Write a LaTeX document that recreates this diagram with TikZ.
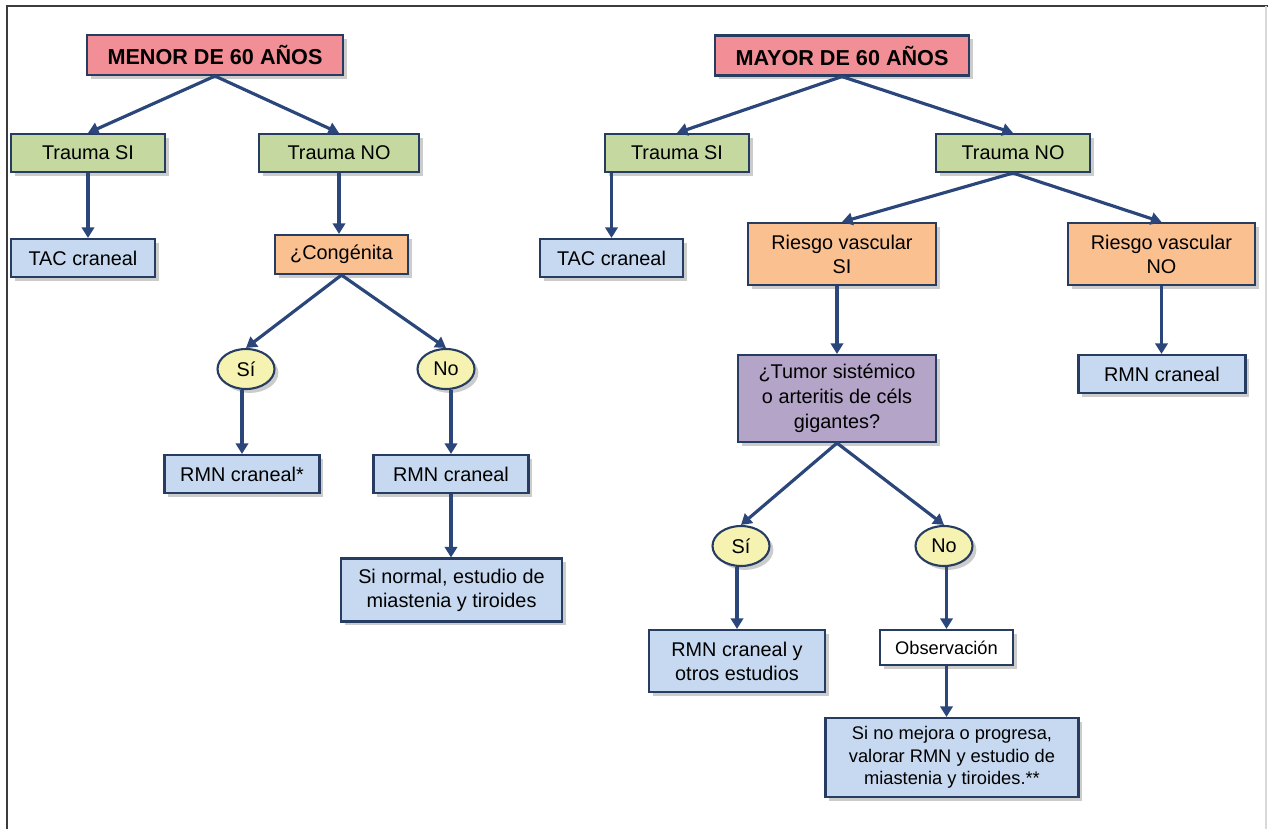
\documentclass[tikz,border=0pt]{standalone}
\usepackage{fontspec}
\setmainfont{Liberation Sans}
\usetikzlibrary{positioning,arrows.meta,shadows,shapes.geometric}

\definecolor{boxline}{RGB}{38,60,96}
\definecolor{linkblue}{RGB}{42,70,122}
\definecolor{titlered}{RGB}{242,142,150}
\definecolor{traumagreen}{RGB}{196,216,160}
\definecolor{testblue}{RGB}{198,217,241}
\definecolor{riskorange}{RGB}{250,192,144}
\definecolor{querypurple}{RGB}{180,164,200}
\definecolor{answeryellow}{RGB}{246,243,178}
\definecolor{framegray}{RGB}{60,60,60}

\begin{document}
\begin{tikzpicture}[x=0.02cm, y=-0.02cm,
  base/.style={draw=boxline, line width=1.2pt, align=center, inner sep=2pt,
    drop shadow={shadow xshift=2.2pt, shadow yshift=-2.2pt, opacity=0.4},
    font=\fontsize{11.3}{13.6}\selectfont},
  title/.style={base, fill=titlered, minimum height=0.8cm,
    font=\fontsize{12.3}{14}\selectfont\bfseries},
  trauma/.style={base, fill=traumagreen, minimum height=0.76cm},
  test/.style={base, fill=testblue, minimum height=0.76cm},
  risk/.style={base, fill=riskorange, minimum height=0.78cm},
  query/.style={base, fill=querypurple, font=\fontsize{11.3}{14.2}\selectfont},
  watch/.style={base, fill=white, font=\fontsize{10.4}{12.5}\selectfont},
  answer/.style={base, ellipse, fill=answeryellow, inner sep=0pt,
    minimum width=1.14cm, minimum height=0.8cm},
  link/.style={-{Triangle[length=6pt,width=7pt]}, line width=1.8pt, draw=linkblue}]

\useasboundingbox (0,0) rectangle (1268,829);

% Frame
\draw[line width=1.2pt, draw=framegray] (7,829) -- (7,6) -- (1268,6);
\draw[line width=0.8pt, draw=black!15] (1266,6) -- (1266,829);

% Left tree
\node[title, minimum width=5.12cm] (menor) at (215,55) {MENOR DE 60 AÑOS};
\node[trauma, minimum width=3.08cm] (lsi) at (88,153) {Trauma SI};
\node[trauma, minimum width=3.2cm] (lno) at (339,153) {Trauma NO};
\node[test, minimum width=2.88cm] (ltac) at (83,258) {TAC craneal};
\node[risk, minimum width=2.66cm] (cong) at (341.5,254.5) {¿Congénita};
\node[answer] (lyes) at (246,369) {Sí};
\node[answer] (lnoans) at (446,369) {No};
\node[test, minimum width=3.1cm] (rmnast) at (242,474) {RMN craneal*};
\node[test, minimum width=3.1cm] (lrmn) at (451,474) {RMN craneal};
\node[test, minimum width=4.42cm, minimum height=1.26cm] (lnormal) at (451.5,590)
  {Si normal, estudio de\\miastenia y tiroides};

% Right tree
\node[title, minimum width=5.08cm] (mayor) at (842,55.5) {MAYOR DE 60 AÑOS};
\node[trauma, minimum width=2.87cm] (rsi) at (677,153) {Trauma SI};
\node[trauma, minimum width=3.08cm] (rno) at (1013,153) {Trauma NO};
\node[test, minimum width=2.86cm] (rtac) at (611.5,258) {TAC craneal};
\node[risk, minimum width=3.76cm, minimum height=1.24cm] (vsi) at (842,254) {Riesgo vascular\\SI};
\node[risk, minimum width=3.74cm, minimum height=1.24cm] (vno) at (1161.5,254) {Riesgo vascular\\NO};
\node[test, minimum width=3.34cm] (rrmn) at (1162,374) {RMN craneal};
\node[query, minimum width=3.96cm, minimum height=1.74cm] (tumor) at (837,398.5)
  {¿Tumor sistémico\\o arteritis de céls\\gigantes?};
\node[answer] (ryes) at (741,546) {Sí};
\node[answer] (rnoans) at (944,546) {No};
\node[test, minimum width=3.52cm, minimum height=1.24cm] (otros) at (737,661)
  {RMN craneal y\\otros estudios};
\node[watch, minimum width=2.66cm, minimum height=0.7cm] (obs) at (946.5,647.5) {Observación};
\node[test, minimum width=5.06cm, minimum height=1.58cm, font=\fontsize{10.4}{12.8}\selectfont]
  (mejora) at (952,757.5) {Si no mejora o progresa,\\valorar RMN y estudio de\\miastenia y tiroides.**};

% Arrows, left
\draw[link] (menor.south) -- (lsi.north);
\draw[link] (menor.south) -- (lno.north);
\draw[link] (lsi.south) -- (lsi.south |- ltac.north);
\draw[link] (lno.south) -- (lno.south |- cong.north);
\draw[link] (cong.south) -- (lyes.north);
\draw[link] (cong.south) -- (lnoans.north);
\draw[link] (rmnast.north |- lyes.south) -- (rmnast.north);
\draw[link] (lrmn.north |- lnoans.south) -- (lrmn.north);
\draw[link] (lrmn.south) -- (lrmn.south |- lnormal.north);

% Arrows, right
\draw[link] (mayor.south) -- (rsi.north);
\draw[link] (mayor.south) -- (rno.north);
\draw[link] (rtac.north |- rsi.south) -- (rtac.north);
\draw[link] (rno.south) -- (vsi.north);
\draw[link] (rno.south) -- (vno.north);
\draw[link] (tumor.north |- vsi.south) -- (tumor.north);
\draw[link] (vno.south) -- (vno.south |- rrmn.north);
\draw[link] (tumor.south) -- (ryes.north);
\draw[link] (tumor.south) -- (rnoans.north);
\draw[link] (otros.north |- ryes.south) -- (otros.north);
\draw[link] (obs.north |- rnoans.south) -- (obs.north);
\draw[link] (obs.south) -- (obs.south |- mejora.north);

\end{tikzpicture}
\end{document}
